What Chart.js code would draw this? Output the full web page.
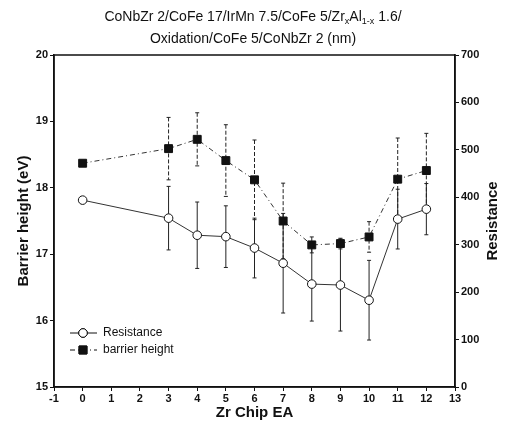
<!DOCTYPE html>
<html>
<head>
<meta charset="utf-8">
<script src="https://cdn.jsdelivr.net/npm/chart.js@4.4.1/dist/chart.umd.min.js"></script>
<style>
  body { margin: 0; background: #fff; }
  #wrap { position: relative; width: 506px; height: 428px; }
  #title {
    position: absolute; left: 0; top: 5px; width: 506px; text-align: center;
    font-family: "Liberation Sans", Arial, sans-serif; font-size: 14px; line-height: 22px; color: #111;
  }
  #title sub { font-size: 9px; vertical-align: -3px; line-height: 0; }
</style>
</head>
<body>
<div id="wrap">
  <canvas id="chart" width="506" height="428"></canvas>
  <div id="title">CoNbZr 2/CoFe 17/IrMn 7.5/CoFe 5/Zr<sub>x</sub>Al<sub>1-x</sub> 1.6/<br>Oxidation/CoFe 5/CoNbZr 2 (nm)</div>
</div>
<script>
// values
const chipEA = [0, 3, 4, 5, 6, 7, 8, 9, 10, 11, 12];
const barrierHeight = [18.37, 18.59, 18.73, 18.41, 18.12, 17.50, 17.14, 17.16, 17.26, 18.13, 18.26];
const barrierErr = [0, 0.47, 0.40, 0.54, 0.60, 0.57, 0.12, 0.08, 0.23, 0.62, 0.56];
const resistance = [394, 356, 320, 317, 293, 261, 217, 215, 183, 354, 375];
const resistanceErr = [0, 67, 70, 65, 63, 105, 78, 97, 84, 63, 54];

const FONT = '"Liberation Sans", Arial, sans-serif';
const INK = '#111';

// error bars, drawn under the markers
const errorBars = {
    id: 'errorBars',
    beforeDatasetsDraw(chart) {
        const ctx = chart.ctx;
        const xs = chart.scales.x;
        chart.data.datasets.forEach(ds => {
            if (!ds.errors) return;
            const ys = chart.scales[ds.yAxisID];
            ctx.save();
            ctx.strokeStyle = '#222';
            ctx.lineWidth = 1;
            ctx.setLineDash(ds.errDash || []);
            ds.data.forEach((p, i) => {
                const e = ds.errors[i];
                if (!e) return;
                const x = xs.getPixelForValue(p.x);
                const y1 = ys.getPixelForValue(p.y + e);
                const y2 = ys.getPixelForValue(p.y - e);
                ctx.beginPath();
                ctx.moveTo(x, y1); ctx.lineTo(x, y2);
                ctx.stroke();
                ctx.setLineDash([]);
                ctx.beginPath();
                ctx.moveTo(x - 2, y1); ctx.lineTo(x + 2, y1);
                ctx.moveTo(x - 2, y2); ctx.lineTo(x + 2, y2);
                ctx.stroke();
                ctx.setLineDash(ds.errDash || []);
            });
            ctx.restore();
        });
    },
    afterDraw(chart) {
        // frame round the plot, right axis title and the small legend
        const ctx = chart.ctx;
        const a = chart.chartArea;
        ctx.save();
        ctx.strokeStyle = INK;
        ctx.lineWidth = 1.5;
        ctx.strokeRect(a.left, a.top, a.right - a.left, a.bottom - a.top);

        ctx.save();
        ctx.translate(493, (a.top + a.bottom) / 2);
        ctx.rotate(-Math.PI / 2);
        ctx.fillStyle = INK;
        ctx.font = 'bold 15px ' + FONT;
        ctx.textAlign = 'center';
        ctx.textBaseline = 'middle';
        ctx.fillText('Resistance', 0, 0);
        ctx.restore();

        const items = [
            { ds: chart.data.datasets[0], y: 333 },
            { ds: chart.data.datasets[1], y: 350 }
        ];
        items.forEach(it => {
            const ds = it.ds;
            ctx.strokeStyle = INK;
            ctx.lineWidth = 1;
            ctx.setLineDash(ds.borderDash || []);
            ctx.beginPath();
            ctx.moveTo(70, it.y); ctx.lineTo(97, it.y);
            ctx.stroke();
            ctx.setLineDash([]);
            Chart.helpers.drawPoint(ctx, {
                pointStyle: ds.pointStyle, radius: ds.pointRadius, rotation: 0, borderWidth: 1
            }, 83, it.y);
            ctx.fillStyle = ds.pointBackgroundColor;
            ctx.strokeStyle = INK;
            ctx.fill(); ctx.stroke();
            ctx.fillStyle = INK;
            ctx.font = '12px ' + FONT;
            ctx.textBaseline = 'middle';
            ctx.fillText(ds.label, 103, it.y);
        });
        ctx.restore();
    }
};

const toPoints = (ys) => chipEA.map((x, i) => ({ x: x, y: ys[i] }));

new Chart(document.getElementById('chart'), {
    type: 'line',
    data: {
        datasets: [{
            label: 'Resistance',
            data: toPoints(resistance),
            errors: resistanceErr,
            yAxisID: 'y1',
            borderColor: '#333',
            borderWidth: 1,
            pointStyle: 'circle',
            pointRadius: 4.3,
            pointBackgroundColor: '#fff',
            pointBorderColor: INK,
            pointBorderWidth: 1,
            tension: 0
        }, {
            label: 'barrier height',
            data: toPoints(barrierHeight),
            errors: barrierErr,
            errDash: [4, 2],
            yAxisID: 'y',
            borderColor: '#333',
            borderWidth: 1,
            borderDash: [5, 3, 1, 3],
            pointStyle: 'rect',
            pointRadius: 5.6,
            pointBackgroundColor: INK,
            pointBorderColor: INK,
            pointBorderWidth: 1,
            tension: 0
        }]
    },
    options: {
        responsive: false,
        animation: false,
        layout: { padding: { top: 55, left: 0, right: 0, bottom: 0 } },
        plugins: {
            legend: { display: false },
            tooltip: { enabled: false }
        },
        scales: {
            x: {
                type: 'linear',
                min: -1, max: 13,
                afterFit: s => { s.height = 41; },
                ticks: { stepSize: 1, color: INK, padding: 1, font: { family: FONT, size: 11, weight: 'bold' } },
                grid: { drawOnChartArea: false, tickLength: 4, tickColor: INK },
                border: { color: INK, width: 1.5 },
                title: { display: true, text: 'Zr Chip EA', color: INK, padding: { top: 0, bottom: 6 },
                         font: { family: FONT, size: 15, weight: 'bold' } }
            },
            y: {
                position: 'left',
                min: 15, max: 20,
                afterFit: s => { s.width = 54; },
                ticks: { stepSize: 1, color: INK, padding: 2, font: { family: FONT, size: 11, weight: 'bold' } },
                grid: { drawOnChartArea: false, tickLength: 4, tickColor: INK },
                border: { color: INK, width: 1.5 },
                title: { display: true, text: 'Barrier height (eV)', color: INK, padding: { top: 15, bottom: 0 },
                         font: { family: FONT, size: 15, weight: 'bold' } }
            },
            y1: {
                position: 'right',
                min: 0, max: 700,
                afterFit: s => { s.width = 51; },
                ticks: { stepSize: 100, color: INK, padding: 2, font: { family: FONT, size: 11, weight: 'bold' } },
                grid: { drawOnChartArea: false, tickLength: 4, tickColor: INK },
                border: { color: INK, width: 1.5 },
                title: { display: false }
            }
        }
    },
    plugins: [errorBars]
});
</script>
</body>
</html>
